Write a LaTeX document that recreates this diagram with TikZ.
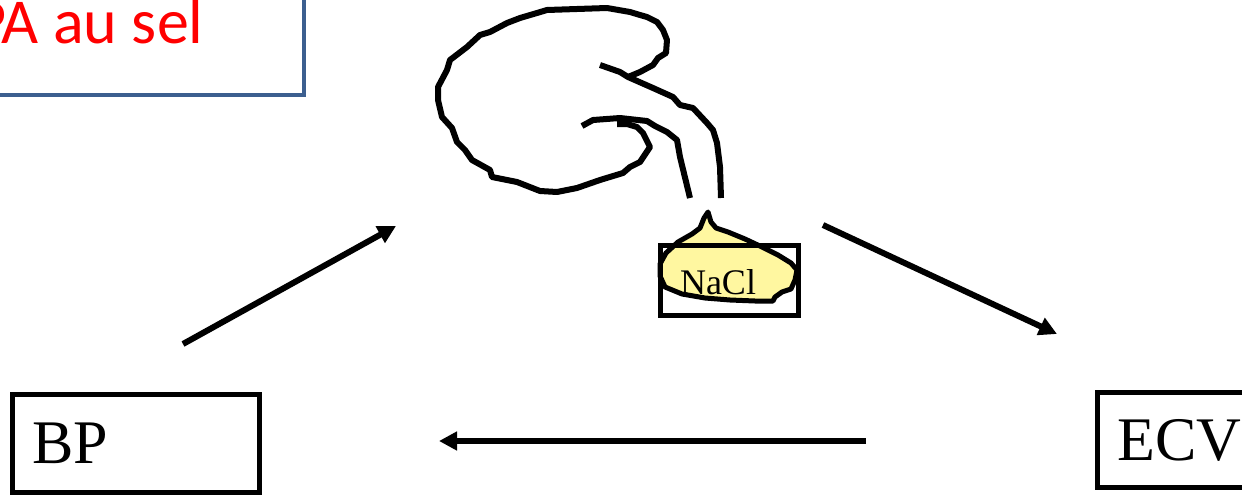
\documentclass[tikz,border=0pt]{standalone}
\usepackage{fontspec}
\setmainfont{Liberation Serif}
\newfontfamily\titlefont{Carlito}
\usepackage{tikz}
\usetikzlibrary{arrows.meta}
\definecolor{boxblue}{RGB}{60,95,143}
\definecolor{saltyellow}{RGB}{255,247,160}

\begin{document}
\begin{tikzpicture}[x=0.5pt, y=-0.5pt,
    box/.style={draw, line width=2.5pt, inner sep=0pt},
    pen/.style={line width=3pt, line join=round},
    flow/.style={line width=3pt, -{Triangle[length=9pt, width=9pt]}}]

\useasboundingbox (0,0) rectangle (1242,498);
\clip (0,0) rectangle (1242,498);

% title box, runs off the left edge
\node[draw=boxblue, line width=2pt, minimum width=202pt, minimum height=57.5pt] (titlebox) at (102,37.5) {};
\node[anchor=base west, inner sep=0pt, text=red, font=\titlefont\fontsize{32}{38}\selectfont] (title) at (-27,43) {PA au sel};

% kidney outline
\draw[pen] (628,77) -- (640,72) -- (653,65) -- (658,58) -- (666,53) -- (667,40) -- (663,30) -- (657,22)
  -- (647,17) -- (640,15) -- (630,12) -- (607,8) -- (547,10) -- (537,13) -- (520,18) -- (507,23)
  -- (490,32) -- (480,35) -- (467,47) -- (450,60) -- (447,70) -- (438,87) -- (438,100) -- (442,117)
  -- (452,128) -- (457,142) -- (465,150) -- (472,160) -- (490,170) -- (492,177) -- (517,182)
  -- (540,191) -- (557,192) -- (577,188) -- (600,180) -- (623,173) -- (630,167) -- (640,162)
  -- (650,147) -- (643,133) -- (637,127) -- (627,124) -- (617,124);
% ureter
\draw[pen] (600,65) -- (620,72) -- (628,77) -- (653,88) -- (673,97) -- (680,105) -- (693,108)
  -- (707,123) -- (713,130) -- (717,143) -- (720,167) -- (721,198);
\draw[pen] (582,126) -- (593,120) -- (620,118) -- (647,121) -- (655,126) -- (667,132) -- (677,140)
  -- (680,157) -- (690,198);

% salt
\filldraw[fill=saltyellow, line width=2.5pt, line join=round] (708,212) -- (711,222) -- (716,228)
  -- (728,232) -- (745,239) -- (762,247) -- (778,255) -- (791,263) -- (797,270) -- (795,280)
  -- (791,289) -- (782,292) -- (775,297) -- (773,301) -- (755,301) -- (730,300) -- (705,298)
  -- (682,294) -- (665,287) -- (660,276) -- (660,264) -- (666,253) -- (678,242) -- (692,234)
  -- (700,228) -- (704,218) -- cycle;
\node[box, minimum width=69pt, minimum height=35pt] (nacl) at (729,280) {};
\node[font=\fontsize{18}{21}\selectfont] (salt) at (718,282) {NaCl};

% BP and ECV boxes
\node[box, minimum width=123.5pt, minimum height=49pt] (bp) at (136,443.5) {};
\node[anchor=base west, inner sep=0pt, font=\fontsize{31}{37}\selectfont] (bplabel) at (32,463) {BP};
\node[box, minimum width=101.25pt, minimum height=47.5pt] (ecv) at (1198.75,440) {};
\node[anchor=base west, inner sep=0pt, font=\fontsize{31}{37}\selectfont] (ecvlabel) at (1117,460) {ECV};

% arrows
\coordinate (a1) at (183,344);
\coordinate (b1) at (396,226);
\coordinate (a2) at (823,225);
\coordinate (b2) at (1057,334);
\coordinate (a3) at (866,441);
\coordinate (b3) at (439,441);
\draw[flow] (a1) -- (b1);
\draw[flow] (a2) -- (b2);
\draw[flow] (a3) -- (b3);

\end{tikzpicture}
\end{document}
